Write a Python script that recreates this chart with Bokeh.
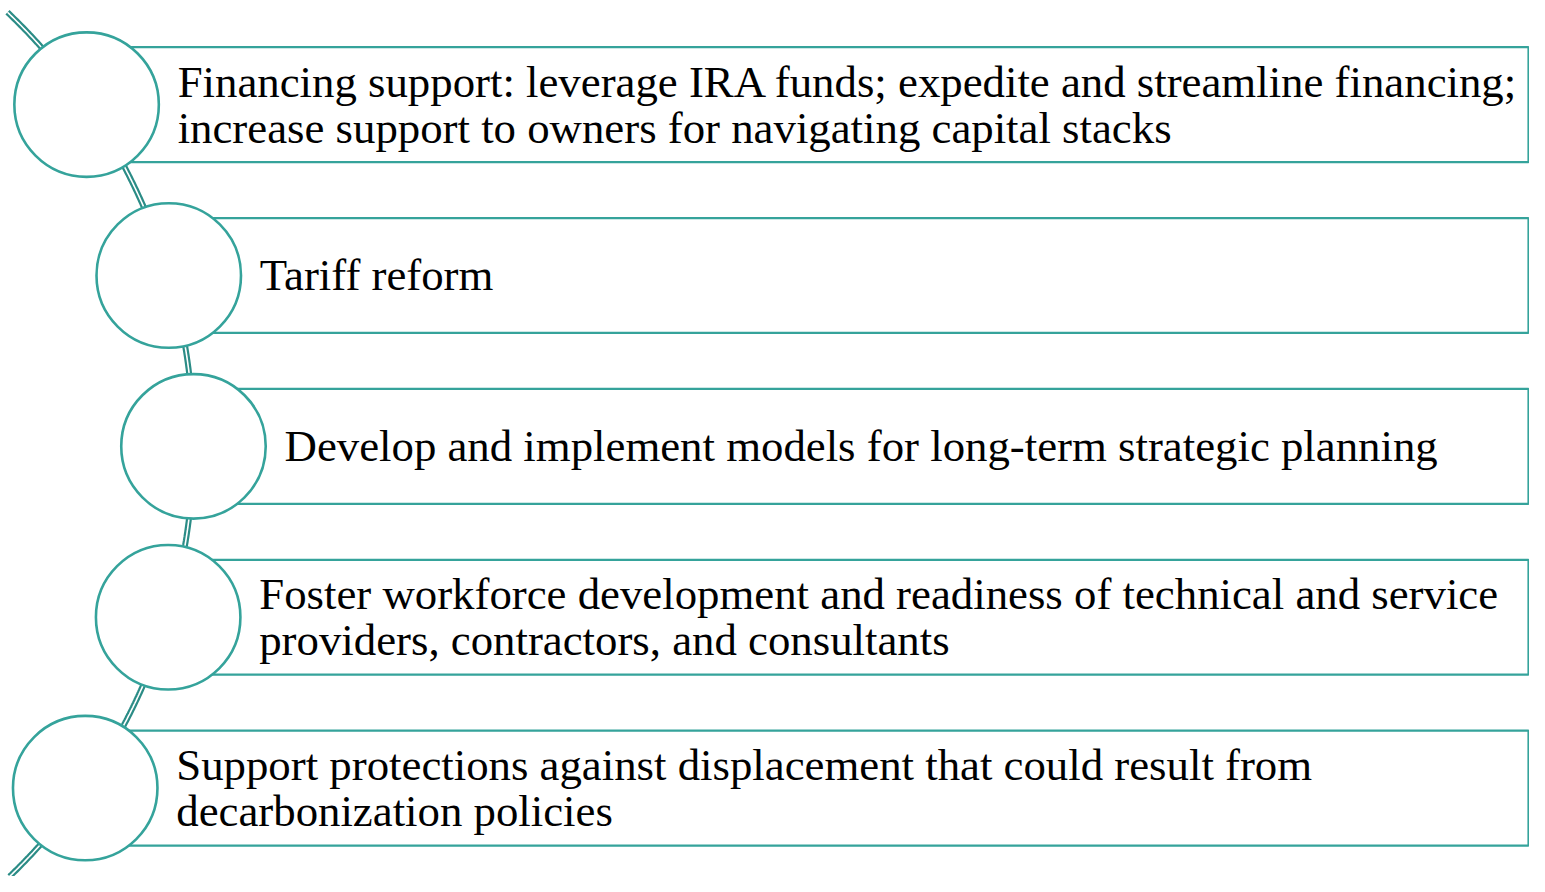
import numpy as np
from bokeh.plotting import figure
from bokeh.models import Range1d
from bokeh.core.properties import value
from bokeh.embed import file_html
from bokeh.resources import INLINE

# ---- content ----
item_lines = [
    ["Financing support: leverage IRA funds; expedite and streamline financing;",
     "increase support to owners for navigating capital stacks"],
    ["Tariff reform"],
    ["Develop and implement models for long-term strategic planning"],
    ["Foster workforce development and readiness of technical and service",
     "providers, contractors, and consultants"],
    ["Support protections against displacement that could result from",
     "decarbonization policies"],
]

# ---- layout (diagram units ~ reference pixels) ----
W, H = 1529, 876
DW, DH = 1545, 892
TEAL = "#35a39b"
TEAL_DARK = "#2b8c86"
first_y, step = 106.0, 174.0
box_h = 117.0
box_right = 1544.0
circle_r = 73.0
arc_cy, arc_R, arc_apex_x = 453.0, 611.4, 195.0
arc_cx = arc_apex_x - arc_R
font_px = 44.8
line_gap = 47.0
text_dx = 92.0
base_shift = 0.0

n = len(item_lines)
cy = np.array([first_y + step * i for i in range(n)])
cx = arc_cx + np.sqrt(arc_R**2 - (cy - arc_cy) ** 2)

p = figure(width=W, height=H, output_backend="svg", toolbar_location=None,
           x_range=Range1d(0, DW), y_range=Range1d(DH, 0),
           x_axis_type=None, y_axis_type=None, min_border=0)
p.grid.visible = False
p.outline_line_color = None
p.background_fill_color = "white"
p.border_fill_color = "white"

# connector arc (double line)
ys = np.linspace(12, 892, 400)
xs = arc_cx + np.sqrt(arc_R**2 - (ys - arc_cy) ** 2)
p.line(xs, ys, line_color=TEAL_DARK, line_width=6)
p.line(xs, ys, line_color="white", line_width=1.6)

# boxes
p.quad(left=cx, right=[box_right] * n, top=cy - box_h / 2, bottom=cy + box_h / 2,
       fill_color="white", line_color=TEAL, line_width=2.2)

# circles
p.circle(x=cx, y=cy, radius=circle_r, fill_color="white", line_color=TEAL, line_width=2.6)

# texts
tx, ty, tt = [], [], []
for i, lines in enumerate(item_lines):
    k = len(lines)
    base0 = cy[i] + base_shift - (k - 1) * line_gap / 2
    for j, ln in enumerate(lines):
        tx.append(cx[i] + text_dx)
        ty.append(base0 + j * line_gap)
        tt.append(ln)
p.text(x=tx, y=ty, text=tt, text_font=value("Liberation Serif"),
       text_font_size=f"{font_px}px", text_color="black", text_baseline="alphabetic",
       text_align="left")

open("out.html", "w").write(file_html(p, INLINE))
